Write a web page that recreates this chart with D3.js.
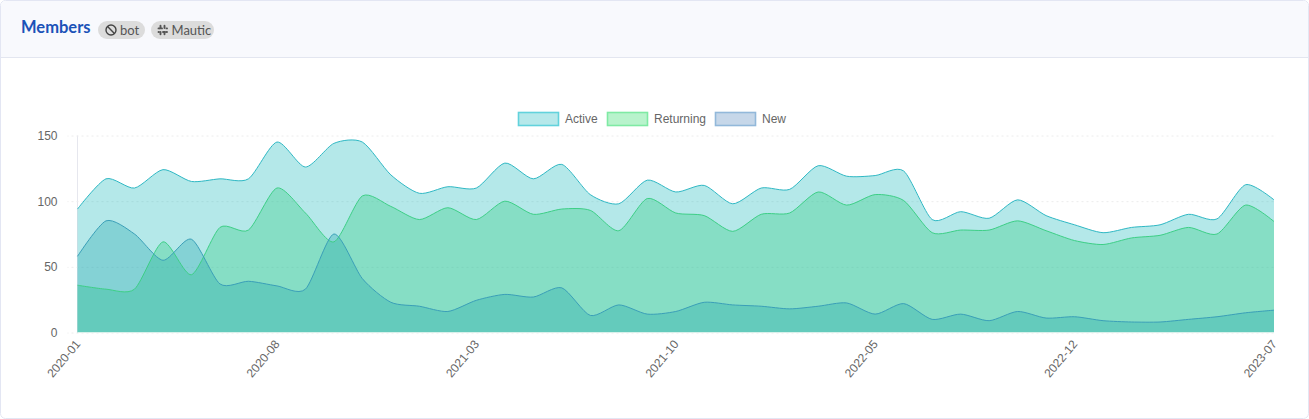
<!DOCTYPE html>
<html><head><meta charset="utf-8">
<style>
html,body{margin:0;padding:0;background:#fff}
svg{display:block}
text{font-family:"Liberation Sans",Arial,sans-serif}
</style>
<script src="https://cdn.jsdelivr.net/npm/d3@7/dist/d3.min.js"></script>
</head><body><svg id="c" width="1309" height="419"></svg>
<script>
const months=["2020-01","2020-02","2020-03","2020-04","2020-05","2020-06","2020-07","2020-08","2020-09","2020-10","2020-11","2020-12","2021-01","2021-02","2021-03","2021-04","2021-05","2021-06","2021-07","2021-08","2021-09","2021-10","2021-11","2021-12","2022-01","2022-02","2022-03","2022-04","2022-05","2022-06","2022-07","2022-08","2022-09","2022-10","2022-11","2022-12","2023-01","2023-02","2023-03","2023-04","2023-05","2023-06","2023-07"];
const tickLabels=["2020-01","2020-08","2021-03","2021-10","2022-05","2022-12","2023-07"];
const yTicks=[0,50,100,150];
const active=[94,117,110,124,115,117,117,145,126,144,145,120,106,111,110,129,117,128,105,98,116,107,112,98,110,109,127,119,119.5,123,86,92,87,101,89,82,76,80,82,90,86.5,112.5,101];
const returning=[36,33,33,69,44,80,78,110,91,69,104,96,86,95,86,100,90,94,93,77.5,102,91,89,77,90,91,107,97,105,100.5,76,78,78,85,77.5,70,67,72,74,80,75,97,84.5];
const newer=[58,85,75,55,71,37,39,35.5,33,75,41,23,20,16,24.5,29,27,34,13,21,14,16,23,21,20,18,20,22.5,14,22,10,14,9,16,11,12,9,8,8,10,12,15,17];
const seriesNames=["Active","Returning","New"];
const seriesData=[active,returning,newer];
const fills=["#08b2b6","#1ec873","#169eaa"];
const strokes=["#2fb8c4","#3dcf86","#3a9fb8"];
const legendBorder=["#62d2dc","#7feaa4","#92b8da"];
const legendFill=["#b6e8ea","#b8f3cc","#c6d7e9"];
const legendX=[518.5,607.5,715.5], legendTextX=[565,654,762];

const svg=d3.select("#c");
const FONT2="'Lato',sans-serif";
// Card
svg.append("rect").attr("x",.5).attr("y",.5).attr("width",1308).attr("height",418).attr("rx",5).attr("fill","#fff").attr("stroke","#e3e6f3");
svg.append("path").attr("d","M1,57 V6 Q1,1 6,1 H1303 Q1308,1 1308,6 V57 Z").attr("fill","#f8f9fd");
svg.append("line").attr("x1",1).attr("x2",1308).attr("y1",57.5).attr("y2",57.5).attr("stroke","#e3e6f0");
svg.append("text").attr("x",21).attr("y",33).text("Members").attr("font-size",16.5).attr("font-weight",700).attr("fill","#1b52b8").style("font-family",FONT2);
// badges
svg.append("rect").attr("x",98).attr("y",21).attr("width",47).attr("height",18).attr("rx",9).attr("fill","#dcdcdc");
svg.append("rect").attr("x",151).attr("y",21).attr("width",63).attr("height",18).attr("rx",9).attr("fill","#dcdcdc");
svg.append("circle").attr("cx",111).attr("cy",30).attr("r",5).attr("fill","none").attr("stroke","#444").attr("stroke-width",1.4);
svg.append("line").attr("x1",107.6).attr("y1",26.6).attr("x2",114.4).attr("y2",33.4).attr("stroke","#444").attr("stroke-width",1.4);
svg.append("text").attr("x",120).attr("y",34.5).text("bot").attr("font-size",13).attr("fill","#555").style("font-family",FONT2);
const sl=svg.append("g").attr("stroke","#555").attr("stroke-width",1.9).attr("stroke-linecap","round");
[[160.5,25.7,160.5,28],[164.5,25.7,164.5,28],[158.5,28.4,159,28.4],[166.5,28.4,167,28.4],[158.5,32,159,32],[166.5,32,167,32],[160.5,32,160.5,34.3],[164.5,32,164.5,34.3],[160,28.4,162,28.4],[163,32,165,32]].forEach(d=>sl.append("line").attr("x1",d[0]).attr("y1",d[1]).attr("x2",d[2]).attr("y2",d[3]));
svg.append("text").attr("x",171.5).attr("y",34.5).text("Mautic").attr("font-size",13).attr("fill","#555").style("font-family",FONT2);

// scales
const x=d3.scalePoint().domain(months).range([77.5,1274]);
const y=d3.scaleLinear().domain([0,150]).range([332.5,135.5]);

// grid + axes
const yAxis=d3.axisLeft(y).tickValues(yTicks).tickSize(10).tickPadding(6);
const gy=svg.append("g").attr("transform","translate(77.5,0)").call(yAxis);
gy.select(".domain").attr("stroke","#e6e7ee").attr("d","M0,135.5V332.5");
gy.selectAll(".tick line").attr("x2",-10).attr("x1",1196).attr("stroke","#ececec").attr("stroke-dasharray","2,3");
gy.selectAll("text").attr("font-size",12).attr("fill","#666").style("font-family","'Liberation Sans',sans-serif").attr("x",-20);

const curve=d3.curveCardinal.tension(0.25);
const indices=months.map((m,i)=>i);
const area=vals=>d3.area().x(i=>x(months[i])).y0(y(0)).y1(i=>y(vals[i])).curve(curve)(indices);
const line=vals=>d3.line().x(i=>x(months[i])).y(i=>y(vals[i])).curve(curve)(indices);

seriesData.forEach((vals,k)=>{
  svg.append("path").attr("d",area(vals)).attr("fill",fills[k]).attr("fill-opacity",.3);
});
seriesData.forEach((vals,k)=>{
  svg.append("path").attr("d",line(vals)).attr("fill","none").attr("stroke",strokes[k]).attr("stroke-width",1);
});

// x axis
const xAxis=d3.axisBottom(x).tickValues(tickLabels).tickSize(0).tickPadding(8);
const gx=svg.append("g").attr("transform","translate(0,332.5)").call(xAxis);
gx.select(".domain").attr("stroke","#d8f0ea").attr("d","M77.5,0H1274");
gx.selectAll("text").attr("font-size",12).attr("fill","#666").style("font-family","'Liberation Sans',sans-serif")
  .attr("text-anchor","end").attr("dy",0).attr("y",0)
  .attr("transform","translate(3,12) rotate(-50)");

// legend
const lg=svg.append("g").selectAll("g").data(seriesNames).join("g");
lg.append("rect").attr("x",(d,i)=>legendX[i]).attr("y",112.5).attr("width",40).attr("height",13).attr("fill",(d,i)=>legendFill[i]).attr("stroke",(d,i)=>legendBorder[i]).attr("stroke-width",1.6);
lg.append("text").attr("x",(d,i)=>legendTextX[i]).attr("y",123).text(d=>d).attr("font-size",12).attr("fill","#666");
</script></body></html>
